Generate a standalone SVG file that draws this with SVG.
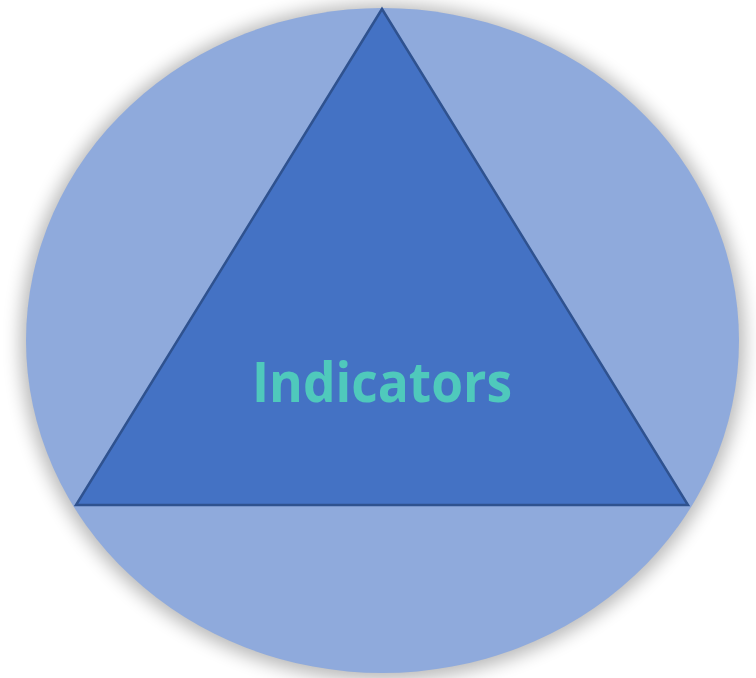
<svg xmlns="http://www.w3.org/2000/svg" width="756" height="678" viewBox="0 0 756 678">
  <defs>
    <filter id="shadow" x="-10%" y="-10%" width="120%" height="120%">
      <feGaussianBlur stdDeviation="9"/>
    </filter>
    <style>
      .circle { fill: #8FAADC; }
      .tri { fill: #4472C4; stroke: #2F528F; stroke-width: 2.5; stroke-linejoin: miter; }
      .label { font-family: "Open Sans", "Liberation Sans", sans-serif; font-weight: 700; font-size: 56px; fill: #4FC9BC; }
    </style>
  </defs>
  <rect width="756" height="678" fill="#FFFFFF"/>
  <g id="circle">
    <ellipse cx="382.5" cy="342" rx="362" ry="338" fill="#000000" opacity="0.28" filter="url(#shadow)"/>
    <ellipse class="circle" cx="382.5" cy="340.5" rx="356.5" ry="332.5"/>
  </g>
  <g id="triangle">
    <polygon class="tri" points="382,9 688,505 76,505"/>
    <text class="label" x="382" y="402" text-anchor="middle" textLength="260" lengthAdjust="spacingAndGlyphs">Indicators</text>
  </g>
</svg>
